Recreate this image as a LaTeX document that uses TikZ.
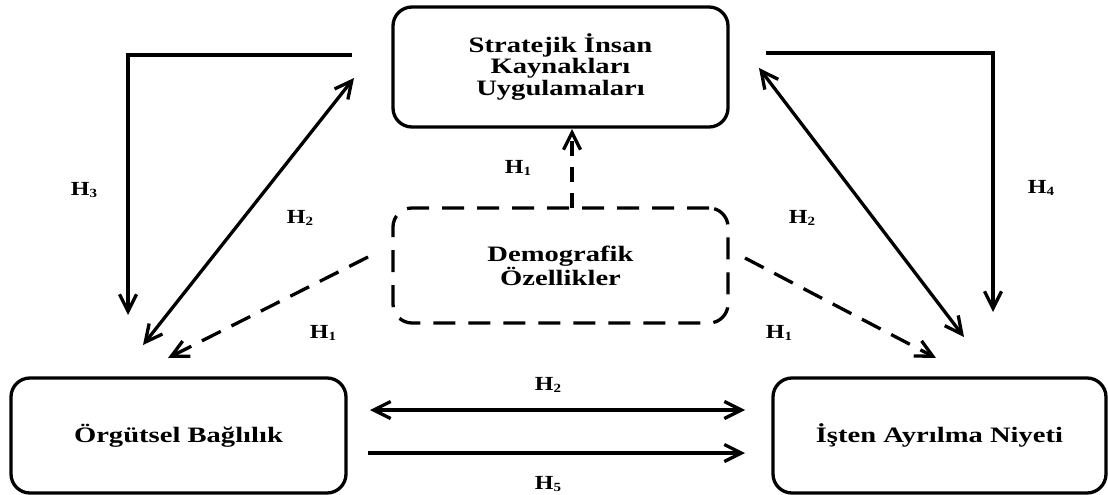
\documentclass[tikz,border=0pt]{standalone}
\usepackage{fontspec}
\newfontfamily\mainf[FakeStretch=1.3]{Liberation Serif}
\newfontfamily\labf[FakeStretch=1.2]{Liberation Serif}
\usetikzlibrary{arrows.meta}
\newcommand\hlab[1]{H\raisebox{-1.5pt}{\fontsize{12.5}{12.5}\selectfont #1}}
\begin{document}
\begin{tikzpicture}[x=1pt,y=-1pt,
  >={Straight Barb[length=17pt,width=17pt]},
  box/.style={draw, line width=3.3pt, rounded corners=19pt, minimum width=335pt, minimum height=115pt, inner sep=0pt, align=center, font=\mainf\bfseries\fontsize{22}{21.5}\selectfont},
  dbox/.style={box, dash pattern=on 22pt off 13pt},
  conn/.style={line width=3.3pt},
  dconn/.style={line width=3.3pt, dash pattern=on 21pt off 12pt},
  uconn/.style={line width=3.3pt, dash pattern=on 15pt off 11pt},
  lab/.style={font=\labf\bfseries\fontsize{20}{20}\selectfont, inner sep=0pt}]
\useasboundingbox (0,0) rectangle (1108,495);
\node[box, minimum height=120pt] (siku) at (560.5,67) {Stratejik İnsan\\Kaynakları\\Uygulamaları};
\node[dbox] (dem) at (560.5,265.5) {Demografik\\Özellikler};
\node[box] (ob) at (178.5,435.5) {Örgütsel Bağlılık};
\node[box, minimum width=333pt] (ian) at (939.5,435.5) {İşten Ayrılma Niyeti};
% coordinates
\coordinate (h3s) at (352,55); \coordinate (h3c) at (128,55); \coordinate (h3e) at (128,315);
\coordinate (h4s) at (766,53); \coordinate (h4c) at (993,53); \coordinate (h4e) at (993,312);
\coordinate (l2a) at (143,345); \coordinate (l2b) at (354,78);
\coordinate (r2a) at (759,68); \coordinate (r2b) at (964,337);
\coordinate (u1) at (572,208); \coordinate (u2) at (572,129);
\coordinate (dl1) at (368,257); \coordinate (dl2) at (168,358);
\coordinate (dr1) at (745,258); \coordinate (dr2) at (936,358);
\coordinate (b2a) at (370,410); \coordinate (b2b) at (745,410);
\coordinate (b5a) at (368,453); \coordinate (b5b) at (745,453);
% connectors
\draw[conn,->] (h3s) -- (h3c) -- (h3e);
\draw[conn,->] (h4s) -- (h4c) -- (h4e);
\draw[conn,<->] (l2a) -- (l2b);
\draw[conn,<->] (r2a) -- (r2b);
\draw[uconn,->] (u1) -- (u2);
\draw[dconn,->] (dl1) -- (dl2);
\draw[dconn,->] (dr1) -- (dr2);
\draw[conn,<->] (b2a) -- (b2b);
\draw[conn,->] (b5a) -- (b5b);
% labels
\node[lab] (t1) at (518,168) {\hlab{1}};
\node[lab] (t3) at (84,190) {\hlab{3}};
\node[lab] (t2l) at (300,218) {\hlab{2}};
\node[lab] (t2r) at (802,218) {\hlab{2}};
\node[lab] (t4) at (1041,188) {\hlab{4}};
\node[lab] (t1l) at (323,333) {\hlab{1}};
\node[lab] (t1r) at (779,333) {\hlab{1}};
\node[lab] (t2b) at (548,385) {\hlab{2}};
\node[lab] (t5) at (548,484) {\hlab{5}};
\end{tikzpicture}
\end{document}
